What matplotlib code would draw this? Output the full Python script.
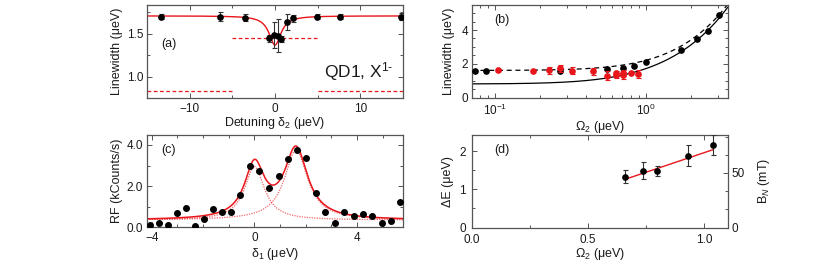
import numpy as np
import matplotlib
matplotlib.use('Agg')
import matplotlib.pyplot as plt
from matplotlib.ticker import MultipleLocator, LogLocator, NullFormatter, FixedLocator

plt.rcParams['font.family'] = ['Liberation Sans', 'DejaVu Sans']
plt.rcParams['mathtext.fontset'] = 'custom'
plt.rcParams['mathtext.rm'] = 'Liberation Sans'
plt.rcParams['mathtext.it'] = 'Liberation Sans:italic'
plt.rcParams['mathtext.bf'] = 'Liberation Sans:bold'
plt.rcParams['axes.unicode_minus'] = True

# ---------------- data ----------------
# (a) linewidth vs detuning
a_det = [-13.4, -6.4, -3.5, -0.75, -0.1, 0.3, 0.7, 1.4, 2.1, 4.9, 7.6, 14.8]
a_lw = [1.70, 1.70, 1.69, 1.45, 1.49, 1.48, 1.44, 1.64, 1.68, 1.70, 1.70, 1.70]
a_err = [0.03, 0.05, 0.04, 0.04, 0.15, 0.19, 0.04, 0.09, 0.04, 0.03, 0.03, 0.04]
a_fit_base, a_fit_depth, a_fit_width = 1.71, 0.34, 0.85
a_ref_high, a_ref_low = 1.45, 0.83

# (b) linewidth vs Omega2
b_black_x = [0.0737, 0.0868, 0.27, 0.551, 0.71, 0.83, 1.0, 1.71, 2.2, 2.59, 3.08]
b_black_y = [1.60, 1.60, 1.58, 1.70, 1.72, 1.84, 2.11, 2.81, 3.46, 3.95, 4.90]
b_red_x = [0.104, 0.178, 0.228, 0.27, 0.323, 0.45, 0.553, 0.635, 0.635, 0.71, 0.71, 0.80, 0.89]
b_red_y = [1.62, 1.60, 1.62, 1.72, 1.60, 1.55, 1.30, 1.45, 1.32, 1.45, 1.32, 1.48, 1.38]
b_red_err = [0.05, 0.05, 0.2, 0.2, 0.2, 0.2, 0.25, 0.15, 0.15, 0.2, 0.2, 0.05, 0.25]
b_gamma_dash, b_gamma_solid, b_k = 1.6, 0.8, 2.28

# (c) RF spectrum
c_delta = [-4.09, -3.73, -3.38, -3.03, -2.66, -2.31, -1.97, -1.61, -1.26, -0.91,
           -0.56, -0.17, 0.17, 0.56, 0.94, 1.30, 1.65, 2.01, 2.38, 2.75,
           3.12, 3.48, 3.86, 4.22, 4.58, 4.96, 5.32, 5.68]
c_rf = [0.13, 0.21, 0.11, 0.70, 0.93, 0.08, 0.39, 0.89, 0.75, 0.75,
        1.59, 2.96, 2.73, 1.90, 2.49, 3.30, 3.74, 3.38, 1.69, 0.75,
        0.21, 0.73, 0.54, 0.65, 0.57, 0.20, 0.33, 1.22]
c_off = 0.35
c_p1 = (2.6, 0.0, 0.47)   # amplitude, centre, HWHM
c_p2 = (3.4, 1.62, 0.55)

# (d) splitting vs Omega2
d_om = [0.658, 0.734, 0.798, 0.929, 1.038]
d_dE = [1.33, 1.49, 1.48, 1.88, 2.15]
d_err = [0.17, 0.23, 0.12, 0.28, 0.26]
d_fit_x = [0.658, 1.038]
d_fit_y = [1.26, 2.04]
d_mT_per_ueV = 35.0

# ---------------- figure ----------------
W, H = 830, 267
fig = plt.figure(figsize=(W / 100, H / 100), dpi=100)

def px_axes(l, t, r, b):
    return fig.add_axes([l / W, 1 - b / H, (r - l) / W, (b - t) / H])

SPINE = '#555555'
TXT = '#1a1a1a'
RED = '#e8151b'

def style(ax):
    for s in ax.spines.values():
        s.set_color(SPINE)
        s.set_linewidth(0.9)
    ax.tick_params(which='both', direction='in', top=True, right=True,
                   colors=SPINE, labelcolor=TXT, labelsize=8.5, width=0.7)
    ax.tick_params(which='major', length=3.5, pad=2.5)
    ax.tick_params(which='minor', length=2)
    ax.tick_params(axis='x', which='major', pad=3.5)

ebkw = dict(fmt='o', ms=3.8, elinewidth=0.8, capsize=1.8, capthick=0.8)

# ---- (a)
axa = px_axes(147, 4.7, 403, 98.3)
style(axa)
xa = np.linspace(-15, 15, 600)
axa.plot(xa, a_fit_base - a_fit_depth / (1 + (xa / a_fit_width) ** 2), color=RED, lw=1.0, zorder=2)
axa.plot([-5, 5], [a_ref_high] * 2, ls=(0, (3, 2)), color=RED, lw=0.9)
axa.plot([-15, -5], [a_ref_low] * 2, ls=(0, (3, 2)), color=RED, lw=0.9)
axa.plot([5, 15], [a_ref_low] * 2, ls=(0, (3, 2)), color=RED, lw=0.9)
axa.errorbar(a_det, a_lw, yerr=a_err, color='black', ecolor='#333333', zorder=3, **ebkw)
axa.set_xlim(-15, 15)
axa.set_ylim(0.75, 1.84)
axa.xaxis.set_major_locator(MultipleLocator(10))
axa.xaxis.set_minor_locator(MultipleLocator(5))
axa.yaxis.set_major_locator(FixedLocator([1.0, 1.5]))
axa.yaxis.set_minor_locator(MultipleLocator(0.25))
axa.yaxis.set_major_formatter(matplotlib.ticker.FormatStrFormatter('%.1f'))
axa.set_ylabel('Linewidth (μeV)', fontsize=9, color=TXT, labelpad=3)
axa.set_xlabel('Detuning δ$_2$ (μeV)', fontsize=9, color=TXT, labelpad=0)
axa.text(0.055, 0.55, '(a)', transform=axa.transAxes, fontsize=9, color=TXT)
axa.text(0.69, 0.22, 'QD1, X$^{1\u2010}$', transform=axa.transAxes, fontsize=12.5, color=TXT)

# ---- (b)
axb = px_axes(471.7, 4.7, 727.7, 97.5)
style(axb)
axb.set_xscale('log')
xb = np.logspace(np.log10(0.07), np.log10(3.5), 400)
axb.plot(xb, np.sqrt(b_gamma_dash ** 2 + b_k * xb ** 2), color='black', lw=0.9, ls=(0, (4, 3)))
axb.plot(xb, np.sqrt(b_gamma_solid ** 2 + b_k * xb ** 2), color='black', lw=0.9)
axb.plot(b_black_x, b_black_y, 'o', color='black', ms=3.8, zorder=3)
axb.errorbar(b_red_x, b_red_y, yerr=b_red_err, color=RED, ecolor=RED, zorder=4, **ebkw)
axb.set_xlim(0.07, 3.5)
axb.set_ylim(0, 5.5)
axb.xaxis.set_major_locator(LogLocator(base=10))
axb.xaxis.set_minor_locator(LogLocator(base=10, subs=np.arange(2, 10)))
axb.xaxis.set_minor_formatter(NullFormatter())
axb.yaxis.set_major_locator(MultipleLocator(2))
axb.yaxis.set_minor_locator(MultipleLocator(0.5))
axb.set_ylabel('Linewidth (μeV)', fontsize=9, color=TXT, labelpad=5)
axb.set_xlabel('Ω$_2$ (μeV)', fontsize=9, color=TXT, labelpad=1)
axb.text(0.09, 0.8, '(b)', transform=axb.transAxes, fontsize=9, color=TXT)

# ---- (c)
axc = px_axes(146.7, 134.7, 403.3, 227.3)
style(axc)
xc = np.linspace(-4.2, 5.8, 600)
l1 = c_p1[0] / (1 + ((xc - c_p1[1]) / c_p1[2]) ** 2)
l2 = c_p2[0] / (1 + ((xc - c_p2[1]) / c_p2[2]) ** 2)
axc.plot(xc, c_off + l1, color=RED, lw=0.9, ls=(0, (1, 1)), alpha=0.65)
axc.plot(xc, c_off + l2, color=RED, lw=0.9, ls=(0, (1, 1)), alpha=0.65)
axc.plot(xc, c_off + l1 + l2, color=RED, lw=1.1)
axc.plot(c_delta, c_rf, 'o', color='black', ms=4, zorder=3)
axc.set_xlim(-4.2, 5.8)
axc.set_ylim(0, 4.5)
axc.xaxis.set_major_locator(MultipleLocator(4))
axc.xaxis.set_minor_locator(MultipleLocator(1))
axc.yaxis.set_major_locator(MultipleLocator(2))
axc.yaxis.set_minor_locator(MultipleLocator(1))
axc.yaxis.set_major_formatter(matplotlib.ticker.FormatStrFormatter('%.1f'))
axc.set_ylabel('RF (kCounts/s)', fontsize=9, color=TXT, labelpad=3)
axc.set_xlabel('δ$_1$ (μeV)', fontsize=9, color=TXT, labelpad=1)
axc.text(0.055, 0.8, '(c)', transform=axc.transAxes, fontsize=9, color=TXT)

# ---- (d)
axd = px_axes(471.7, 134.7, 727.7, 227.5)
style(axd)
axd.tick_params(right=False)
axd.tick_params(axis='x', which='major', pad=5)
axd.tick_params(axis='y', which='major', pad=4)
axd.plot(d_fit_x, d_fit_y, color=RED, lw=1.0)
axd.errorbar(d_om, d_dE, yerr=d_err, color='black', ecolor='#333333', zorder=3, **ebkw)
axd.set_xlim(0, 1.1)
axd.set_ylim(0, 2.43)
axd.xaxis.set_major_locator(MultipleLocator(0.5))
axd.xaxis.set_minor_locator(MultipleLocator(0.25))
axd.xaxis.set_major_formatter(matplotlib.ticker.FormatStrFormatter('%.1f'))
axd.yaxis.set_major_locator(MultipleLocator(1))
axd.yaxis.set_minor_locator(MultipleLocator(0.5))
axd.set_ylabel('ΔE (μeV)', fontsize=9, color=TXT, labelpad=4)
axd.set_xlabel('Ω$_2$ (μeV)', fontsize=9, color=TXT, labelpad=0)
axd.text(0.09, 0.8, '(d)', transform=axd.transAxes, fontsize=9, color=TXT)
axd2 = axd.twinx()
for s in axd2.spines.values():
    s.set_visible(False)
axd2.set_ylim(0, 2.43 * d_mT_per_ueV)
axd2.yaxis.set_major_locator(MultipleLocator(50))
axd2.yaxis.set_minor_locator(MultipleLocator(50 / 3))
axd2.tick_params(which='both', direction='in', colors=SPINE, labelcolor=TXT, labelsize=8.5, width=0.7)
axd2.tick_params(which='major', length=3.5, pad=2.5)
axd2.tick_params(which='minor', length=2)
axd2.set_ylabel('B$_N$ (mT)', fontsize=9, color=TXT, labelpad=8)

fig.savefig('out.png', dpi=100)
